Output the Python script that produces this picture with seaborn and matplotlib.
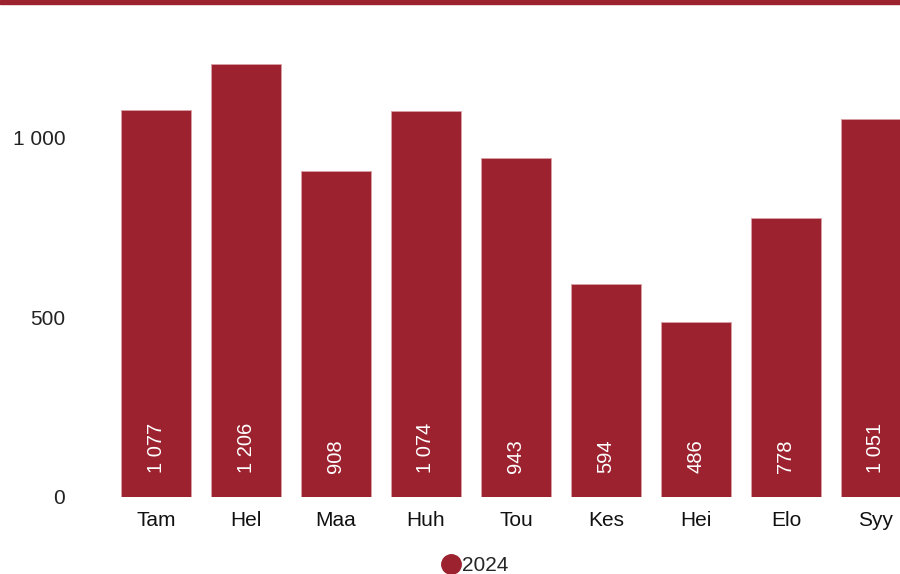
#!/usr/bin/env python
# Monthly bar chart, 2024

import pandas as pd
import seaborn as sns
import matplotlib.pyplot as plt
from matplotlib.lines import Line2D
from matplotlib.patches import Rectangle

months = ['Tam', 'Hel', 'Maa', 'Huh', 'Tou', 'Kes', 'Hei', 'Elo', 'Syy']
values = [1077, 1206, 908, 1074, 943, 594, 486, 778, 1051]
series_name = '2024'
y_ticks = [0, 500, 1000]

bar_color = '#9b222e'

sns.set_style('white')
plt.rcParams['font.family'] = ['Liberation Sans', 'DejaVu Sans']

df = pd.DataFrame({'month': months, 'value': values, 'year': series_name})

fig = plt.figure(figsize=(9, 5.74), dpi=100)
ax = fig.add_axes([111 / 900, 77 / 574, 789 / 900, 449 / 574])

sns.barplot(data=df, x='month', y='value', order=months, color=bar_color,
            saturation=1, width=0.78, edgecolor='#d9a0a6', linewidth=0.6, ax=ax)

# numbers with a space as thousands separator
def fmt(v):
    return f'{v:,}'.replace(',', ' ')

for i, v in enumerate(values):
    ax.annotate(fmt(v), xy=(i, 0), xytext=(0, 17), textcoords='offset points',
                rotation=90, ha='center', va='bottom', color='white', fontsize=14.5)

ax.set_xlim(-0.5, 744 / 90)
ax.set_ylim(0, 1250)
ax.set_yticks(y_ticks)
ax.set_yticklabels([fmt(t) for t in y_ticks])
ax.tick_params(axis='y', labelsize=15, pad=33, length=0, colors='#222222')
ax.tick_params(axis='x', labelsize=15, pad=10, length=0, colors='#111111')
ax.set_xlabel('')
ax.set_ylabel('')
sns.despine(ax=ax, left=True, bottom=True)

# top border strip
fig.patches.append(Rectangle((0, 1 - 4 / 574), 1, 4 / 574, transform=fig.transFigure,
                             color=bar_color, zorder=5))

handle = Line2D([], [], marker='o', linestyle='', markersize=14,
                markerfacecolor=bar_color, markeredgecolor=bar_color)
fig.legend(handles=[handle], labels=[series_name], loc='center',
           bbox_to_anchor=(0.527, 0.014), frameon=False, fontsize=15,
           handletextpad=0.05, borderpad=0, handlelength=1.0)

fig.savefig('out.png', dpi=100)
